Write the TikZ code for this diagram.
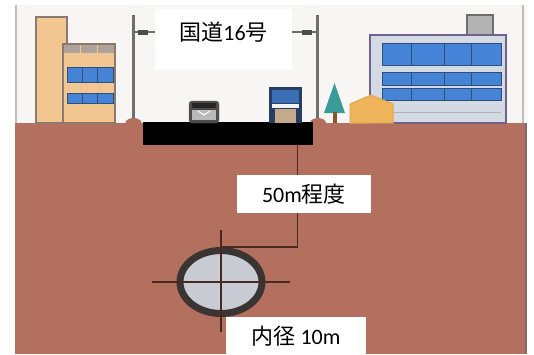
\documentclass[tikz,border=0pt]{standalone}
\usepackage{fontspec}
\setmainfont{Carlito}
\newfontfamily\jp{Noto Sans CJK JP}
\usetikzlibrary{shapes.geometric,positioning}

\definecolor{soil}{HTML}{B3705F}
\definecolor{sky}{HTML}{F8F6F4}
\definecolor{beige}{HTML}{F1C690}
\definecolor{trim}{HTML}{8C7A6E}
\definecolor{glass}{HTML}{4483D6}
\definecolor{frame}{HTML}{2F4E7A}
\definecolor{office}{HTML}{D3DAE4}
\definecolor{pole}{HTML}{6E6E6E}
\definecolor{leaf}{HTML}{3A9C98}
\definecolor{roof}{HTML}{F0B45A}
\definecolor{ring}{HTML}{3A3533}
\definecolor{bore}{HTML}{C9CBD3}
\definecolor{dim}{HTML}{4A2A20}

\begin{document}
\begin{tikzpicture}[x=1pt,y=-1pt,
    lbl/.style={fill=white,inner sep=0pt},
    txt/.style={font=\fontsize{22}{24}\selectfont},
    win/.style={fill=glass,draw=frame,line width=1pt},
    post/.style={pole,line width=3pt}]
\useasboundingbox (0,0) rectangle (534,354);

% sky and ground
\fill[sky] (15,5) rectangle (527,123);
\fill[soil] (15,123) rectangle (527,354);
\draw[gray!50,line width=1.5pt] (16,5) -- (16,123);
\draw[gray!50,line width=1.5pt] (523,5) -- (523,123);
\draw[dim!70,line width=1.5pt] (526,123) -- (526,354);

% left building
\draw[trim,fill=beige,line width=1.5pt] (36,17) rectangle (67,123);
\draw[trim,fill=beige,line width=1.5pt] (63,44) rectangle (115,123);
\fill[trim!70] (64,45) rectangle (114,53);
\foreach \x in {80,97} \draw[beige,line width=1pt] (\x,45) -- (\x,53);
\draw[win] (67,67) rectangle (113,82);
\draw[win] (67,93) rectangle (113,103);
\foreach \x in {82,97} {
  \draw[frame,line width=1pt] (\x,67) -- (\x,82);
  \draw[frame,line width=1pt] (\x,93) -- (\x,103);
}

% street lamps
\draw[post] (133.5,15) -- (133.5,123);
\draw[pole,line width=2pt] (133.5,32) -- (156,32);
\fill[pole!70!black] (138,30) rectangle (148,34.5);
\draw[post] (317.5,15) -- (317.5,123);
\draw[pole,line width=2pt] (292,32) -- (317.5,32);
\fill[pole!70!black] (302,30) rectangle (312,34.5);
\fill[soil] (133.5,123) ellipse [x radius=8,y radius=5];
\fill[soil] (318,123) ellipse [x radius=8,y radius=5];

% road
\node[fill=black,minimum width=170,minimum height=23,inner sep=0pt,anchor=north west] (road) at (143,122) {};

% cars
\draw[black!60,fill=black!70,rounded corners=3pt] (189,101) rectangle (219,123);
\fill[black!85] (192,103) rectangle (216,108);
\fill[gray!55] (192,110) rectangle (216,120);
\draw[white,line width=1pt] (198,111) -- (204,115) -- (210,111);
\fill[frame!80!black] (269,87) rectangle (302,123);
\fill[glass!85!black] (272,90) rectangle (299,103);
\fill[white!90!gray] (272,104) rectangle (299,108);
\fill[gray!40!beige] (275,109) rectangle (296,123);

% right building
\draw[pole,fill=gray!60,line width=1.2pt] (467,15) rectangle (493,35);
\draw[trim!80!blue,fill=office,line width=1.5pt] (370,35) rectangle (506,123);
\draw[win] (382,43) rectangle (501,65);
\draw[win] (382,72) rectangle (501,85);
\draw[win] (382,88) rectangle (501,100);
\foreach \x in {411,444,471} {
  \draw[frame,line width=1pt] (\x,43) -- (\x,65);
  \draw[frame,line width=1pt] (\x,72) -- (\x,85);
  \draw[frame,line width=1pt] (\x,88) -- (\x,100);
}
\draw[gray!60,line width=1pt] (376,112) -- (501,112);

% tree and house in front
\fill[leaf] (334.5,83) -- (345,113) -- (324,113) -- cycle;
\fill[brown!70!black] (333,112) rectangle (337,123);
\draw[roof!70!brown,fill=roof,line width=1pt] (350,123) -- (350,104) -- (371,95) -- (393,104) -- (393,123) -- cycle;

% tunnel section
\node[ellipse,draw=ring,fill=bore,line width=7pt,minimum width=82,minimum height=63,inner sep=0pt] (tunnel) at (221,282) {};
\draw[dim,line width=1.5pt] ([xshift=-69pt]tunnel.center) -- ([xshift=69pt]tunnel.center);
\draw[dim,line width=1.5pt] ([yshift=52pt]tunnel.center) -- ([yshift=-50pt]tunnel.center);
\coordinate (depth) at (297.5,145);
\draw[dim,line width=1.5pt] (depth) |- (tunnel.north);

% labels
\node[lbl,minimum width=137,minimum height=61] (route) at (223.5,39.5) {};
\node[txt] (routetext) at (223.5,32) {{\jp 国道}16{\jp 号}};
\node[lbl,txt,minimum width=134,minimum height=38] (deep) at (304,194) {50m{\jp 程度}};
\node[lbl,txt,minimum width=140,minimum height=38] (bore) at (296,336) {{\jp 内径} 10m};
\end{tikzpicture}
\end{document}
